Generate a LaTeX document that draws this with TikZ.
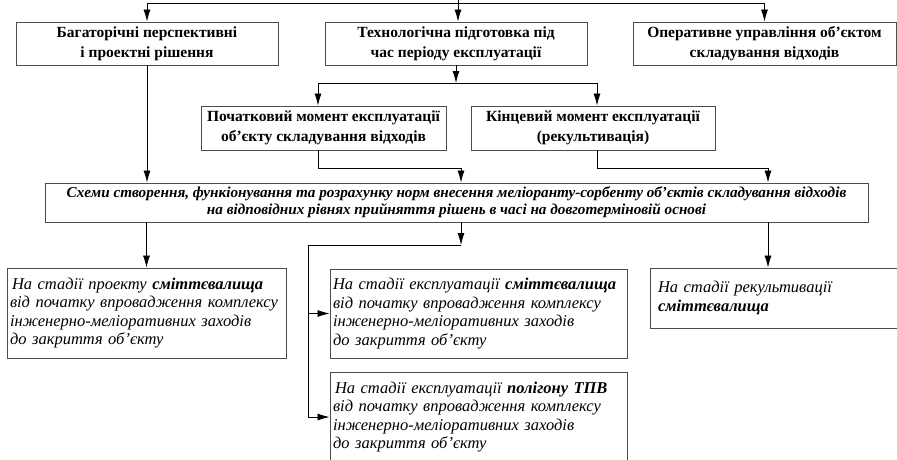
\documentclass[tikz,border=0pt]{standalone}
\usepackage{fontspec}
\setmainfont{Liberation Serif}
\usetikzlibrary{arrows.meta}

\begin{document}
\begin{tikzpicture}[x=1pt, y=-1pt, >={Latex[length=12pt,width=7pt]},
    hbox/.style={draw=black!70, line width=0.9pt, minimum height=43pt, align=center, inner sep=0pt,
        font=\fontsize{15.5}{20}\selectfont\bfseries},
    sbox/.style={draw=black!70, line width=0.9pt, inner xsep=3pt, inner ysep=0pt, align=left,
        font=\fontsize{16.5}{18.5}\selectfont\itshape},
    line/.style={line width=0.8pt}]
    \useasboundingbox (0,0) rectangle (897,459);
    % upper level
    \node[hbox, minimum width=262pt] (perspective) at (147,43.5) {Багаторічні перспективні\\і проектні рішення};
    \node[hbox, minimum width=262pt] (preparation) at (456,43.5) {Технологічна підготовка під\\час періоду експлуатації};
    \node[hbox, minimum width=263pt] (management) at (764.5,43.5) {Оперативне управління об’єктом\\складування відходів};
    \node[hbox, minimum width=245pt, minimum height=44pt] (start) at (323.5,128) {Початковий момент експлуатації\\об’єкту складування відходів};
    \node[hbox, minimum width=244pt, minimum height=44pt] (finish) at (593,128) {Кінцевий момент експлуатації\\(рекультивація)};
    \node[draw=black!70, line width=0.9pt, minimum width=823pt, minimum height=39pt, inner sep=0pt, align=center,
        font=\fontsize{15.2}{17}\selectfont\bfseries\itshape] (schemes) at (456.5,202.5)
        {Схеми створення, функіонування та розрахунку норм внесення меліоранту-сорбенту об’єктів складування відходів\\на відповідних рівнях прийняття рішень в часі на довготерміновій основі};
    % lower level
    \node[sbox, text width=273pt, minimum height=90pt] (project) at (146.5,313)
        {\mbox{\hspace{2pt}На стадії проекту \textbf{сміттєвалища}}\\від початку впровадження комплексу\\інженерно-меліоративних заходів\\до закриття об’єкту};
    \node[sbox, text width=291pt, minimum height=89pt] (exploit) at (478.5,313.5)
        {\mbox{На стадії експлуатації \textbf{сміттєвалища}}\\від початку впровадження комплексу\\інженерно-меліоративних заходів\\до закриття об’єкту};
    \node[sbox, text width=291pt, minimum height=90pt] (polygon) at (478.5,417)
        {\mbox{\hspace{2pt}На стадії експлуатації \textbf{полігону ТПВ}}\\від початку впровадження комплексу\\інженерно-меліоративних заходів\\до закриття об’єкту};
    \node[sbox, inner xsep=8pt, text width=231pt, minimum height=60pt] (reclaim) at (773.5,298)
        {На стадії рекультивації\\\textbf{сміттєвалища}};

    % connectors
    \coordinate (feedtop) at (458,-2);
    \coordinate (feed) at (458,3);
    \coordinate (split) at (456,83);
    \coordinate (join) at (461,168);
    \coordinate (joinb) at (768,168);
    \coordinate (branch) at (308,245);
    \draw[line] (feedtop) -- (feed);
    \draw[line,->] (feed) -| (perspective);
    \draw[line,->] (feed) -- (feed |- preparation.north);
    \draw[line,->] (feed) -| (management);
    \draw[line,->] (preparation) -- (split);
    \draw[line,->] (split) -| ([xshift=-5.5pt]start.north);
    \draw[line,->] (split) -| ([xshift=4pt]finish.north);
    \draw[line,->] ([xshift=-5.5pt]start.south) |- (join) -- (join |- schemes.north);
    \draw[line,->] ([xshift=4pt]finish.south) |- (joinb) -- (joinb |- schemes.north);
    \draw[line,->] (perspective.south) -- (perspective.south |- schemes.north);
    \draw[line,->] (project.north |- schemes.south) -- (project.north);
    \draw[line,->] (joinb |- schemes.south) -- (joinb |- reclaim.north);
    \draw[line,->] (join |- schemes.south) -- (join |- branch);
    \draw[line] (join |- branch) -- (branch);
    \draw[line,->] (branch) |- (exploit);
    \draw[line,->] (branch) |- (polygon);
\end{tikzpicture}
\end{document}
